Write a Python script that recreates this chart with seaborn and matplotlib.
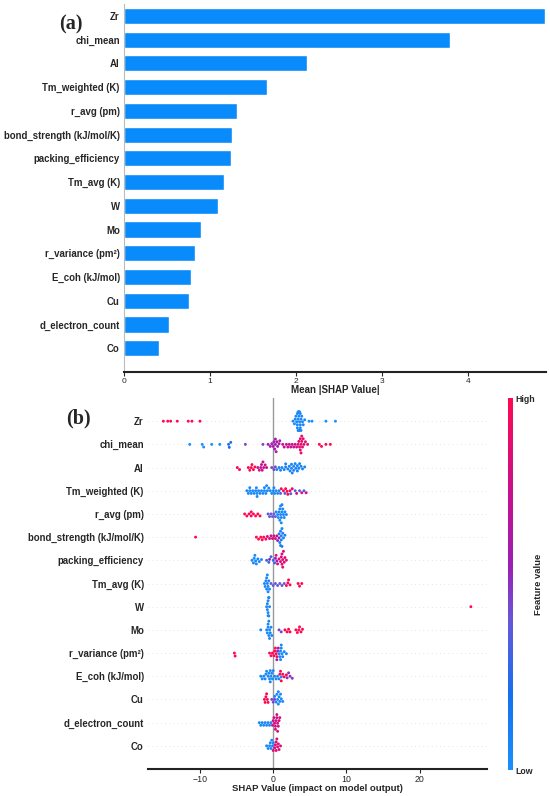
import numpy as np
import pandas as pd
import matplotlib
matplotlib.use("Agg")
import matplotlib.pyplot as plt
from matplotlib.colors import LinearSegmentedColormap, Normalize
import seaborn as sns

sns.set_style("white")
plt.rcParams['font.family'] = ['Liberation Sans', 'DejaVu Sans']

features = ["Zr", "chi_mean", "Al", "Tm_weighted (K)", "r_avg (pm)",
            "bond_strength (kJ/mol/K)", "packing_efficiency", "Tm_avg (K)",
            "W", "Mo", "r_variance (pm²)", "E_coh (kJ/mol)", "Cu",
            "d_electron_count", "Co"]

mean_abs_shap = [4.89, 3.79, 2.13, 1.66, 1.31, 1.25, 1.24, 1.16,
                 1.09, 0.89, 0.82, 0.78, 0.75, 0.52, 0.41]

# beeswarm points: (feature value level 0=low..1=high, shap values)
zr = [(1.0, [-15.0, -14.4, -14.0, -13.1, -11.6, -11.1, -10.0]),
      (0.05, [2.7, 2.9, 3.0, 3.1, 3.2, 3.3, 3.3, 3.4, 3.4, 3.4,
              3.5, 3.5, 3.5, 3.5, 3.6, 3.6, 3.6, 3.7, 3.7,
              3.8, 3.8, 3.9, 4.0, 4.1, 4.3, 3.5, 3.3, 3.7]),
      (0.0, [4.9, 5.3, 7.2, 8.5])]
chi_mean = [(0.0, [-11.4, -9.7, -9.5, -8.4, -7.3]),
            (0.2, [-6.1, -6.0, -5.8]),
            (0.45, [-3.8, -1.4]),
            (0.6, [-0.7, -0.4, -0.2, 0.0, 0.1, 0.2, 0.3, 0.4, 0.5, 0.6, 0.8, 0.9, 0.3]),
            (0.75, [1.3, 1.5, 1.8, 2.0, 2.2, 2.4, 2.6, 2.8, 3.0, 3.2]),
            (0.88, [3.4, 3.5, 3.6, 3.7, 3.8, 3.8, 3.9, 3.9, 4.0, 4.1, 4.2, 4.4, 4.7, 3.7]),
            (1.0, [6.3, 6.6, 7.2, 7.8])]
al = [(1.0, [-4.9, -4.6, -3.4, -3.2, -3.0, -2.9, -2.7, -2.5]),
      (0.75, [-2.1, -1.9, -1.7, -1.5, -1.3, -1.1, -0.9, -1.6, -1.4]),
      (0.45, [-0.2, 0.1, 0.3]),
      (0.08, [0.5, 0.8, 1.0, 1.2, 1.5, 1.7, 2.0, 2.2, 2.3, 2.5, 2.6, 2.8, 3.0,
              3.1, 3.3, 3.5, 3.6, 3.8, 4.0, 4.3, 2.5, 3.3, 1.7, 2.8])]
tm_weighted = [(0.05, [-3.6, -3.4, -3.2, -3.0, -2.8, -2.6, -2.4, -2.2, -2.0, -1.8,
                       -1.6, -1.4, -1.2, -1.0, -0.8, -0.6, -0.4, -0.2, 0.0, 0.2,
                       0.4, 0.6, 0.8, -3.2, -2.3, -1.2, -0.9, 0.1, -2.2]),
               (0.35, [1.0, 1.6, 2.4, 3.0, 3.6, 4.2]),
               (1.0, [1.1, 1.4, 1.7, 2.0, 2.3, 1.9]),
               (0.8, [2.6, 3.2, 3.9, 4.5])]
r_avg = [(1.0, [-3.9, -3.6, -3.3, -3.0, -2.7, -2.4, -2.1, -1.8, -3.0]),
         (0.4, [-0.7, -0.5, -0.3, -0.1, 0.1, 0.3]),
         (0.05, [0.4, 0.6, 0.7, 0.8, 0.9, 1.0, 1.0, 1.1, 1.1, 1.2, 1.2, 1.3,
                 1.4, 1.5, 1.6, 1.8, 0.9])]
bond_strength = [(1.0, [-10.6, -2.3, -2.0, -1.7, -1.5, -1.3, -1.0]),
                 (0.8, [-0.8, -0.5, -0.3, -0.1, 0.1, 0.3, 0.5]),
                 (0.55, [0.6, 0.8]),
                 (0.1, [0.8, 0.9, 1.0, 1.0, 1.1, 1.1, 1.2, 1.3, 1.4, 1.6, 1.2])]
packing = [(0.05, [-2.9, -2.7, -2.5, -2.3, -2.1, -1.9, -1.6, -2.6, -2.4]),
           (0.3, [-0.9, -0.6, -0.3, 0.0, 0.2]),
           (0.55, [-0.5, 0.3, 0.5]),
           (0.85, [0.4, 0.6, 0.8, 1.0, 1.1, 1.2, 1.3, 1.3, 1.4, 1.5, 1.6, 1.8, 1.2])]
tm_avg = [(0.05, [-1.2, -1.1, -1.0, -0.9, -0.9, -0.8, -0.8, -0.7, -0.7,
                  -0.6, -0.5]),
          (0.4, [-0.3, 0.0, 0.3, 0.6, 0.9, 1.2, 1.5]),
          (1.0, [1.8, 2.0, 2.1, 2.3, 3.4, 3.6, 3.9])]
w = [(0.05, [-0.9, -0.8, -0.8, -0.7, -0.7, -0.7, -0.6, -0.6, -0.6, -0.5]),
     (1.0, [27.0])]
mo = [(0.05, [-1.7, -0.9, -0.8, -0.7, -0.7, -0.6, -0.6, -0.5, -0.5, -0.4,
              -0.3, -0.2]),
      (0.45, [0.8, 1.1]),
      (1.0, [1.6, 1.9, 2.1, 2.3, 3.1, 3.3, 3.5, 3.6, 3.8, 4.0])]
r_variance = [(1.0, [-5.3, -5.2, -0.5, -0.3, -0.1, 0.1, 0.2, 0.3, 0.4, 0.5]),
              (0.6, [0.5, 0.6, 0.7]),
              (0.05, [0.8, 0.9, 1.0, 1.0, 1.1, 1.1, 1.2, 1.3, 1.5, 1.8])]
e_coh = [(0.05, [-1.7, -1.5, -1.3, -1.1, -0.9, -0.7, -0.6, -0.5, -0.4, -0.3, -0.2,
                 -0.1, 0.0, 0.2, 0.4, 0.6, 0.8, 1.1, -0.4, -1.0]),
         (1.0, [0.9, 1.0, 1.1, 1.3, 1.5, 1.8]),
         (0.5, [1.9, 2.1, 2.3, 2.6])]
cu = [(1.0, [-1.2, -1.1, -1.0, -0.9, -0.8, -0.7]),
      (0.45, [-0.2, 0.0, 0.2]),
      (0.05, [0.2, 0.4, 0.5, 0.6, 0.7, 0.7, 0.8, 0.9, 1.0, 1.1, 1.3])]
d_electron = [(0.05, [-1.9, -1.7, -1.5, -1.3, -1.1, -0.9, -0.7, -0.5, -0.3]),
              (0.8, [-0.1, 0.0, 0.1, 0.2, 0.3, 0.4, 0.5, 0.6, 0.7, 0.8, 0.9,
                     0.3, 0.5, 0.6])]
co = [(0.05, [-0.9, -0.7, -0.5, -0.4, -0.3, -0.2, -0.1, 0.0]),
      (0.85, [0.0, 0.2, 0.3, 0.4, 0.5, 0.6, 0.7, 0.8, 1.0, 0.4])]

swarm_data = [zr, chi_mean, al, tm_weighted, r_avg, bond_strength, packing,
              tm_avg, w, mo, r_variance, e_coh, cu, d_electron, co]

rows = []
for feat, groups in zip(features, swarm_data):
    for level, vals in groups:
        for v in vals:
            rows.append((feat, v, level))
df = pd.DataFrame(rows, columns=["feature", "shap", "val"])

cmap = LinearSegmentedColormap.from_list(
    "shap_rb", [(0.0, "#1a90fc"), (0.2, "#1470f0"), (0.4, "#6658d8"),
                (0.55, "#9a1fb4"), (0.75, "#c8108c"), (1.0, "#ff0852")])

fig = plt.figure(figsize=(5.5, 7.96), dpi=100)

# (a) mean |SHAP| bar chart
ax1 = fig.add_axes([124/550, 1-372/796, 422/550, 368/796])
imp = pd.DataFrame({"feature": features, "value": mean_abs_shap})
sns.barplot(data=imp, x="value", y="feature", color="#0a8bfb", saturation=1,
            width=0.68, orient="h", ax=ax1)
ax1.set_xlim(0, 4.9)
ax1.set_ylim(15.0, -0.5)
ax1.set_ylabel("")
ax1.set_xlabel("Mean |SHAP Value|", fontsize=7, fontweight="bold", labelpad=0)
ax1.set_xticks([0, 1, 2, 3, 4])
for s in ["top", "right"]:
    ax1.spines[s].set_visible(False)
ax1.spines["left"].set_color("#bbbbbb")
ax1.spines["left"].set_linewidth(0.8)
ax1.spines["bottom"].set_color("#222222")
ax1.spines["bottom"].set_linewidth(1.5)
ax1.tick_params(axis="y", length=0, pad=3, labelsize=6.9)
ax1.tick_params(axis="x", length=3, width=0.8, pad=1, labelsize=6, direction="out", bottom=True)
for t in ax1.get_yticklabels():
    t.set_fontweight("bold")

# (b) beeswarm
ax2 = fig.add_axes([148/550, 1-769/796, 339/550, 371/796])
for i in range(len(features)):
    ax2.axhline(i, color="#cccccc", lw=0.5, dashes=(1, 5), zorder=-1)
ax2.axvline(0, color="#999999", lw=1.0, zorder=0)
sns.swarmplot(data=df, x="shap", y="feature", hue="val", palette=cmap,
              hue_norm=(0, 1), order=features, size=2.1, orient="h",
              legend=False, linewidth=0, ax=ax2, zorder=3)
ax2.set_xlim(-17.1, 29.2)
ax2.set_ylim(15, -1)
ax2.set_ylabel("")
ax2.set_xlabel("SHAP Value (impact on model output)", fontsize=6.8,
               fontweight="bold", labelpad=0)
ax2.set_xticks([-10, 0, 10, 20])
ax2.set_xticklabels(["\u221210", "0", "10", "20"])
for s in ["top", "right", "left"]:
    ax2.spines[s].set_visible(False)
ax2.spines["bottom"].set_color("#222222")
ax2.spines["bottom"].set_linewidth(1.5)
ax2.tick_params(axis="y", length=0, pad=3, labelsize=6.9)
ax2.tick_params(axis="x", length=3, width=0.8, pad=1, labelsize=6.3, direction="out", bottom=True)
for t in ax2.get_yticklabels():
    t.set_fontweight("bold")

# colour bar
cax = fig.add_axes([508/550, 1-770/796, 4.5/550, 372/796])
sm = plt.cm.ScalarMappable(cmap=cmap, norm=Normalize(0, 1))
cb = fig.colorbar(sm, cax=cax, ticks=[0, 1])
cb.set_ticklabels(["Low", "High"])
cb.outline.set_visible(False)
cb.ax.tick_params(length=0, pad=2, labelsize=6.3)
for t in cb.ax.get_yticklabels():
    t.set_fontweight("bold")
cb.set_label("Feature value", fontsize=6.8, fontweight="bold", labelpad=-1)

fig.text(71/550, 1-24/796, "(a)", fontsize=14.5, fontweight="bold",
         family="Liberation Serif", ha="center", va="center")
fig.text(78/550, 1-418/796, "(b)", fontsize=14.5, fontweight="bold",
         family="Liberation Serif", ha="center", va="center")

fig.savefig("out.png", dpi=100)
